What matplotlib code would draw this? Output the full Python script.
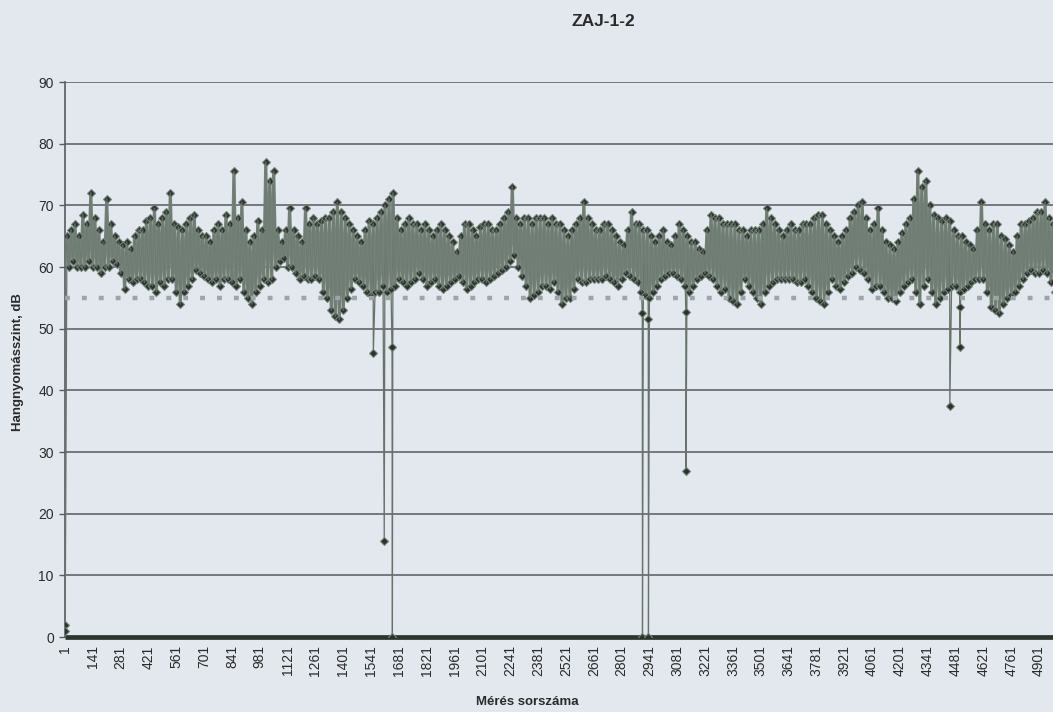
import numpy as np
import matplotlib
matplotlib.use("Agg")
import matplotlib.pyplot as plt

# ---------------- data ----------------
title = "ZAJ-1-2"
y_label = "Hangnyomásszint, dB"
x_label = "Mérés sorszáma"

band_first_no = 11
band_step = 10
band_db = [
    65, 60, 66, 61,   67, 60, 65, 60,   68.5, 60, 67, 61,   72, 60, 68, 60,
    66, 59, 64, 60,   71, 60, 67, 61,   65, 60.5, 64, 59,   63.5, 56.5, 64, 58,
    63, 57.5, 65, 58,   66, 58, 66, 57.5,   67.5, 57, 68, 57,   69.5, 56, 67, 57.5,
    68, 57, 69, 58,   72, 58, 67, 56,   66.5, 54, 66, 56,   67, 57, 68, 58,
    68.5, 59.5, 66, 59,   65, 58.5, 65, 58,   64, 57.5, 66, 58,   67, 57, 66, 58,
    68.5, 58, 67, 57.5,   75.5, 57, 68, 58,   70.5, 56, 66, 55,   64, 54, 65, 56,
    67.5, 57, 66, 58,   77, 57.5, 74, 58,   75.5, 60, 66, 61,   64, 61.5, 66, 60,
    69.5, 60, 66, 59,   65, 58, 64, 58.5,   69.5, 58, 67, 58,   68, 58.5, 67, 58,
    67.5, 56, 68, 55,   68, 53, 69, 52,   70.5, 51.5, 69, 53,   68, 55, 67, 56.5,
    66, 58, 65, 57.5,   64, 57, 66, 56,   67.5, 55.5, 67, 56,   68, 56, 69, 57,
    70, 56, 71, 56.5,   72, 57, 68, 58,   66, 57.5, 67, 57,   68, 57.5, 67, 58,
    67, 59, 66, 58,   67, 57, 66, 57.5,   65, 58, 66, 57,   67, 56.5, 66, 57,
    65, 57.5, 64, 58,   62.5, 58.5, 65, 57.5,   67, 56.5, 67, 57,   66, 57.5, 65, 58,
    66.5, 58, 67, 57.5,   67, 58, 66, 58.5,   66, 59, 67, 59.5,   68, 60, 69, 61,
    73, 62, 68, 60,   67, 58.5, 68, 57,   68, 55, 67, 55.5,   68, 56, 68, 57,
    68, 57, 67, 56.5,   68, 57.5, 67, 56,   67, 54, 66, 55,   65, 55, 66, 56.5,
    67, 58, 68, 57.5,   70.5, 57.5, 68, 58,   67, 58, 66, 58,   66, 58, 67, 58.5,
    67, 58, 66, 57.5,   65, 57, 64, 58,   63.5, 59, 66, 58.5,   69, 58, 67, 57.5,
    67, 56, 66, 55.5,   66, 55, 65, 56,   64, 57, 65, 58,   66, 58.5, 64, 59,
    63.5, 59, 65, 58.5,   67, 58, 66, 57,   65, 56, 64, 57,   64, 58, 63, 58.5,
    62.5, 59, 66, 58.5,   68.5, 58, 68, 57,   68, 56, 67, 56.5,   67, 55, 67, 54.5,
    67, 54, 66, 56,   66, 58, 65, 57,   66, 56, 66, 55,   66, 54, 67, 56,
    69.5, 57, 68, 57.5,   67, 58, 66, 58,   65, 58, 66, 58,   67, 58, 66, 57.5,
    66, 57.5, 67, 58,   67, 57, 67, 56,   68, 55, 68.5, 54.5,   68.5, 54, 67, 56,
    66, 58, 65, 57,   64, 56.5, 65, 57.5,   66, 58.5, 68, 59,   69, 60, 70, 59.5,
    70.5, 59, 68, 58,   66, 56.5, 67, 57,   69.5, 57, 66, 56,   64, 55, 63.5, 55,
    63, 54.5, 64, 56,   65.5, 57, 67, 57.5,   68, 58, 71, 56,   75.5, 54, 73, 57,
    74, 58, 70, 56,   68.5, 54, 68, 55,   67.5, 56, 68, 56.5,   67.5, 57, 66, 57,
    65, 56, 65, 56.5,   64, 57, 63.5, 57.5,   63, 58, 66, 58,   70.5, 58, 67, 56,
    66, 53.5, 67, 53,   67, 52.5, 65, 54,   64.5, 55, 63.5, 55.5,   62.5, 56, 65, 57,
    67, 58, 67, 59,   67.5, 59.5, 68, 59,   69, 59, 69, 59.5,   70.5, 59, 68, 57.5,
    67, 56, 66, 55,   65, 54, 65, 55,
]

# isolated low readings (measurement number, level)
dip_no = [1, 2, 1552, 1607, 1646, 1648, 2905, 2906, 2935, 2936, 3124, 3125, 4452, 4502, 4503]
dip_db = [2.0, 1.0, 46.0, 15.5, 47.0, 0.0, 52.5, 0.0, 51.5, 0.0, 52.7, 27.0, 37.5, 53.5, 47.0]

limit_db = 55          # dotted limit line
zero_db = 0            # zero series drawn as thick line

x_tick_labels = ["1", "141", "281", "421", "561", "701", "841", "981", "1121", "1261",
                 "1401", "1541", "1681", "1821", "1961", "2101", "2241", "2381", "2521",
                 "2661", "2801", "2941", "3081", "3221", "3361", "3501", "3641", "3781",
                 "3921", "4061", "4201", "4341", "4481", "4621", "4761", "4901"]
y_ticks = [0, 10, 20, 30, 40, 50, 60, 70, 80, 90]

# ---------------- assemble series ----------------
band_no = band_first_no + band_step * np.arange(len(band_db))
band_vals = np.array(band_db, float)
all_no = np.concatenate([band_no, np.array(dip_no)])
all_db = np.concatenate([band_vals, np.array(dip_db, float)])
order = np.argsort(all_no, kind="stable")
all_no = all_no[order]
all_db = all_db[order]

tick_pos = [int(t) for t in x_tick_labels]
x_max = 4971

# ---------------- style ----------------
bg = "#e3e8ee"
grid_c = "#575b60"
band_c = "#76837a"
mark_c = "#29332c"
txt_c = "#2a2a2a"

plt.rcParams["font.family"] = ["Liberation Sans", "DejaVu Sans"]

fig = plt.figure(figsize=(10.53, 7.12), dpi=100, facecolor=bg)
ax = fig.add_axes([0.0617, 0.1053, 0.9383, 0.7795], facecolor=bg)

ax.set_xlim(1, x_max)
ax.set_ylim(0, 90)

ax.set_yticks(y_ticks)
ax.yaxis.grid(True, color=grid_c, linewidth=1.1, zorder=0)
ax.set_axisbelow(True)

# zero series (thick dark line along the bottom)
ax.plot([1, x_max], [zero_db, zero_db], color="#2c362f", linewidth=3.4,
        solid_capstyle="butt", clip_on=False, zorder=2)

# measured levels: dense band body (thick), then thin line + markers through all points
ax.plot(band_no, band_vals, color=band_c, linewidth=2.3, zorder=2.8)
ax.plot(all_no, all_db, color="#66726a", linewidth=0.9, marker="D", markersize=4.4,
        markerfacecolor=mark_c, markeredgecolor=band_c, markeredgewidth=0.8,
        zorder=3)
ax.plot(band_no, band_vals, color=band_c, linewidth=1.3, alpha=0.6, zorder=3.1)

# dotted limit line on top
ax.plot([1, x_max], [limit_db, limit_db], color="#9fa4a9", linewidth=3.2,
        linestyle=(0, (1.1, 2.7)), dash_capstyle="butt", zorder=4)

for side in ["top", "right", "bottom"]:
    ax.spines[side].set_visible(False)
ax.spines["left"].set_color(grid_c)
ax.spines["left"].set_linewidth(1.2)

ax.set_xticks(tick_pos)
ax.set_xticklabels(x_tick_labels, rotation=90, fontsize=10, color=txt_c)
ax.tick_params(axis="x", length=0, pad=6)
ax.tick_params(axis="y", length=4, width=1, color=grid_c, labelsize=10,
               labelcolor=txt_c, pad=4)

fig.text(603 / 1053, 1 - 22 / 712, title, ha="center", va="center",
         fontsize=12.5, fontweight="bold", color=txt_c)
fig.text(18 / 1053, 1 - 362 / 712, y_label, ha="center", va="center",
         rotation=90, fontsize=9.5, fontweight="bold", color=txt_c)
fig.text(527 / 1053, 1 - 702 / 712, x_label, ha="center", va="center",
         fontsize=9.5, fontweight="bold", color=txt_c)

fig.savefig("out.png", dpi=100, facecolor=bg)
